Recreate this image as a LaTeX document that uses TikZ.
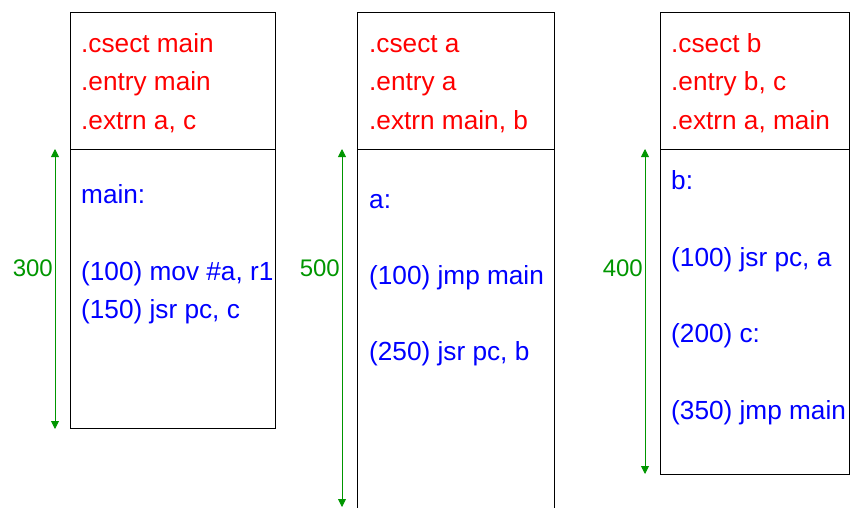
\documentclass[tikz,border=0pt]{standalone}
\usepackage{fontspec}
\setmainfont{Liberation Sans}
\usetikzlibrary{arrows.meta}
\definecolor{dimgreen}{RGB}{0,150,0}
\tikzset{
  box/.style={draw=black, line width=1pt, inner sep=0pt, outer sep=0pt, anchor=north west},
  hdr/.style={text=red, anchor=base west, inner sep=0pt, font=\fontsize{26.2}{31}\selectfont},
  code/.style={text=blue, anchor=base west, inner sep=0pt, font=\fontsize{26.2}{31}\selectfont},
  dim/.style={draw=dimgreen, line width=0.9pt, {Triangle[length=8pt,width=8pt]}-{Triangle[length=8pt,width=8pt]}},
  dimlabel/.style={text=dimgreen, anchor=east, inner sep=0pt, font=\fontsize{24}{28}\selectfont}
}
\begin{document}
\begin{tikzpicture}[x=1pt, y=-1pt]
\useasboundingbox (0,0) rectangle (851,508);
% box 1
\node[box, minimum width=205pt, minimum height=136pt] (h1) at (70,13) {};
\node[box, minimum width=205pt, minimum height=279pt] (b1) at (h1.south west) {};
\node[hdr] (h1a) at (81,53) {.csect main};
\node[hdr] (h1b) at (81,91) {.entry main};
\node[hdr] (h1c) at (81,129) {.extrn a, c};
\node[code] (c1a) at (81,203) {main:};
\node[code] (c1b) at (81,280) {(100) mov \#a, r1};
\node[code] (c1c) at (81,318) {(150) jsr pc, c};
% box 2
\node[box, minimum width=196.5pt, minimum height=136pt] (h2) at (357.5,13) {};
\node[box, minimum width=196.5pt, minimum height=450pt] (b2) at (h2.south west) {};
\node[hdr] (h2a) at (369,53) {.csect a};
\node[hdr] (h2b) at (369,91) {.entry a};
\node[hdr] (h2c) at (369,129) {.extrn main, b};
\node[code] (c2a) at (369,208) {a:};
\node[code] (c2b) at (369,284) {(100) jmp main};
\node[code] (c2c) at (369,360) {(250) jsr pc, b};
% box 3
\node[box, minimum width=189.5pt, minimum height=136pt] (h3) at (660,13) {};
\node[box, minimum width=189.5pt, minimum height=325pt] (b3) at (h3.south west) {};
\node[hdr] (h3a) at (671,53) {.csect b};
\node[hdr] (h3b) at (671,91) {.entry b, c};
\node[hdr] (h3c) at (671,129) {.extrn a, main};
\node[code] (c3a) at (671,189) {b:};
\node[code] (c3b) at (671,266) {(100) jsr pc, a};
\node[code] (c3c) at (671,342) {(200) c:};
\node[code] (c3d) at (671,419) {(350) jmp main};
% dimension arrows
\coordinate (d1t) at (55,149);
\coordinate (d1b) at (55,429);
\coordinate (d2t) at (342,149);
\coordinate (d2b) at (342,507);
\coordinate (d3t) at (645,149);
\coordinate (d3b) at (645,474);
\draw[dim] (d1t) -- (d1b);
\draw[dim] (d2t) -- (d2b);
\draw[dim] (d3t) -- (d3b);
\node[dimlabel] (l1) at (53,268) {300};
\node[dimlabel] (l2) at (340,268) {500};
\node[dimlabel] (l3) at (643,268) {400};
\end{tikzpicture}
\end{document}
